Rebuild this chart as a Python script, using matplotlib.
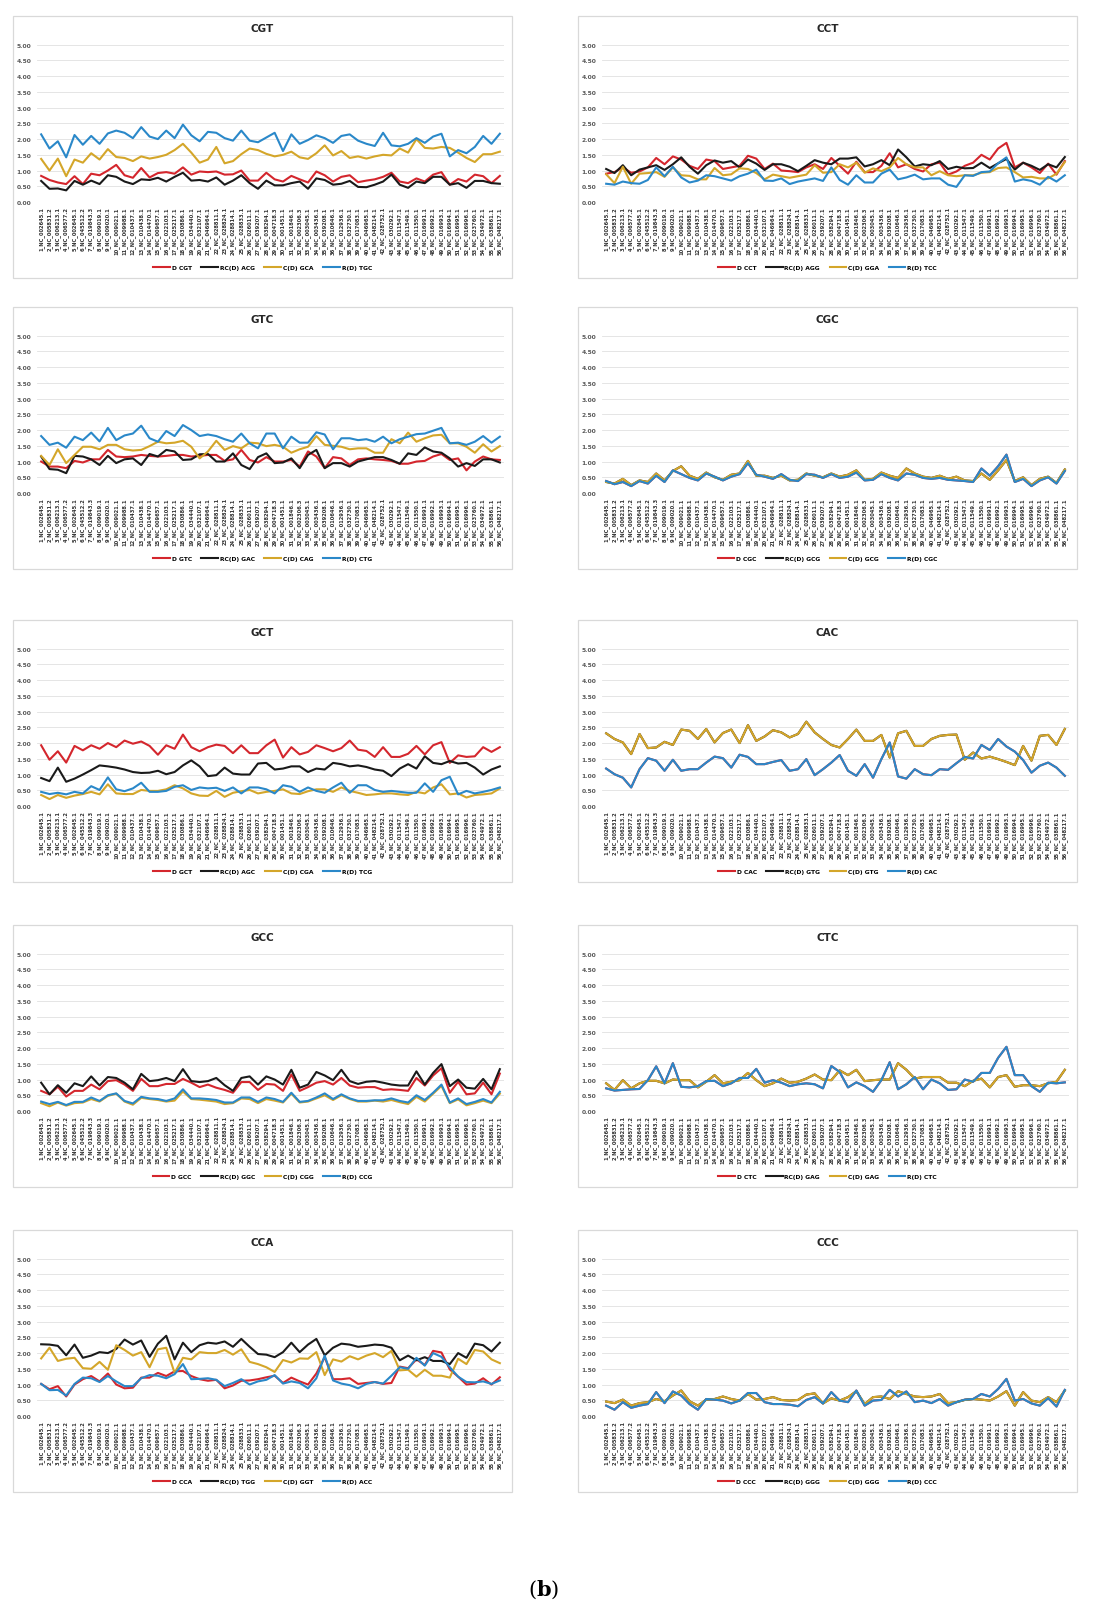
import numpy as np
import matplotlib
matplotlib.use("Agg")
import matplotlib.pyplot as plt
from matplotlib.patches import Rectangle

W, H = 1093, 1608

x_labels = [
    "1_NC_002645.1", "2_NC_005831.2", "3_NC_006213.1", "4_NC_006577.2", "5_NC_002645.1",
    "6_NC_045512.2", "7_NC_019843.3", "8_NC_009019.1", "9_NC_009020.1", "10_NC_009021.1",
    "11_NC_009988.1", "12_NC_010437.1", "13_NC_010438.1", "14_NC_014470.1", "15_NC_009657.1",
    "16_NC_022103.1", "17_NC_025217.1", "18_NC_030886.1", "19_NC_034440.1", "20_NC_032107.1",
    "21_NC_046964.1", "22_NC_028811.1", "23_NC_028824.1", "24_NC_028814.1", "25_NC_028833.1",
    "26_NC_026011.1", "27_NC_039207.1", "28_NC_038294.1", "29_NC_004718.3", "30_NC_001451.1",
    "31_NC_001846.1", "32_NC_002306.3", "33_NC_003045.1", "34_NC_003436.1", "35_NC_039208.1",
    "36_NC_010646.1", "37_NC_012936.1", "38_NC_032730.1", "39_NC_017083.1", "40_NC_046965.1",
    "41_NC_048214.1", "42_NC_028752.1", "43_NC_030292.1", "44_NC_011547.1", "45_NC_011549.1",
    "46_NC_011550.1", "47_NC_016991.1", "48_NC_016992.1", "49_NC_016993.1", "50_NC_016994.1",
    "51_NC_016995.1", "52_NC_016996.1", "53_NC_023760.1", "54_NC_034972.1", "55_NC_038861.1",
    "56_NC_048217.1",
]

y_ticks = [0.0, 0.5, 1.0, 1.5, 2.0, 2.5, 3.0, 3.5, 4.0, 4.5, 5.0]

# ---------------- CGT ----------------
cgt_d = [0.83,0.70,0.62,0.57,0.82,0.57,0.90,0.85,1.00,1.18,0.85,0.77,1.08,0.78,0.92,0.95,0.90,1.10,0.87,0.97,
         0.95,0.97,0.87,0.88,1.00,0.68,0.68,0.93,0.72,0.65,0.83,0.72,0.62,0.97,0.85,0.65,0.80,0.85,0.63,0.68,
         0.72,0.80,0.93,0.65,0.60,0.75,0.65,0.87,0.95,0.55,0.73,0.65,0.87,0.82,0.60,0.83]
cgt_rc = [0.67,0.42,0.43,0.37,0.67,0.55,0.68,0.57,0.85,0.80,0.65,0.57,0.72,0.70,0.77,0.65,0.80,0.93,0.68,0.70,
          0.65,0.78,0.55,0.68,0.85,0.60,0.42,0.68,0.53,0.53,0.60,0.65,0.42,0.75,0.70,0.55,0.58,0.67,0.48,0.47,
          0.55,0.65,0.87,0.55,0.45,0.65,0.60,0.80,0.80,0.55,0.60,0.45,0.67,0.67,0.60,0.58]
cgt_c = [1.37,1.00,1.38,0.82,1.35,1.25,1.55,1.35,1.68,1.43,1.40,1.30,1.45,1.38,1.43,1.50,1.65,1.85,1.57,1.25,
         1.35,1.75,1.23,1.30,1.52,1.70,1.65,1.53,1.45,1.50,1.60,1.42,1.37,1.55,1.80,1.48,1.62,1.40,1.45,1.38,
         1.45,1.50,1.48,1.70,1.57,2.00,1.72,1.70,1.75,1.72,1.57,1.40,1.27,1.52,1.52,1.60]
cgt_r = [2.15,1.70,1.93,1.42,2.13,1.82,2.10,1.85,2.18,2.27,2.20,2.03,2.38,2.08,2.00,2.27,2.03,2.46,2.12,1.93,
         2.23,2.20,2.03,1.95,2.27,1.95,1.90,2.05,2.20,1.62,2.15,1.85,1.97,2.12,2.03,1.88,2.10,2.15,1.95,1.85,
         1.78,2.20,1.80,1.77,1.85,2.03,1.88,2.08,2.17,1.45,1.65,1.55,1.75,2.10,1.85,2.17]

# ---------------- CCT ----------------
cct_d = [0.90,0.95,1.10,0.93,0.97,1.10,1.40,1.20,1.45,1.35,1.15,1.05,1.35,1.30,1.05,1.10,1.15,1.47,1.38,1.05,
         1.22,1.00,0.98,0.95,1.10,1.20,1.05,1.40,1.15,0.90,1.28,0.95,0.95,1.15,1.55,1.10,1.20,1.05,0.97,1.20,
         1.25,0.87,0.97,1.15,1.25,1.50,1.35,1.70,1.88,1.10,1.25,1.10,0.92,1.22,0.87,1.30]
cct_rc = [1.05,0.92,1.17,0.85,1.03,1.10,1.17,1.02,1.20,1.42,1.12,0.90,1.17,1.32,1.25,1.30,1.10,1.35,1.22,1.02,
          1.20,1.20,1.12,0.98,1.15,1.33,1.25,1.20,1.38,1.38,1.42,1.13,1.20,1.33,1.17,1.67,1.42,1.13,1.20,1.17,
          1.30,1.05,1.12,1.07,1.08,1.25,1.08,1.23,1.37,1.03,1.25,1.15,1.02,1.20,1.10,1.43]
cct_c = [0.88,0.60,1.12,0.58,0.90,0.92,0.95,0.80,1.10,0.85,0.83,0.72,0.72,1.08,0.85,0.88,1.07,1.05,0.92,0.72,
         0.87,0.82,0.77,0.82,0.87,1.17,0.93,0.95,1.20,1.10,1.25,0.93,1.07,0.98,1.10,1.40,1.20,1.10,1.10,0.85,
         0.98,0.85,0.82,0.85,0.85,0.93,0.95,1.08,1.10,0.95,0.78,0.80,0.75,0.75,0.90,1.27]
cct_r = [0.58,0.55,0.65,0.60,0.58,0.70,1.10,0.82,1.12,0.78,0.62,0.68,0.85,0.82,0.75,0.68,0.82,0.90,1.03,0.68,
         0.67,0.75,0.57,0.65,0.70,0.75,0.67,1.10,0.70,0.55,0.85,0.62,0.62,0.90,1.03,0.72,0.78,0.87,0.72,0.75,
         0.75,0.55,0.48,0.85,0.83,0.95,0.97,1.23,1.42,0.65,0.72,0.67,0.55,0.80,0.65,0.85]

# ---------------- GTC ----------------
gtc_d = [1.00,0.84,0.84,0.79,1.02,0.97,1.07,1.07,1.37,1.16,1.14,1.16,1.21,1.18,1.16,1.18,1.21,1.21,1.16,1.18,
         1.21,1.21,1.02,1.07,1.37,1.05,0.97,1.14,1.00,1.00,1.05,0.84,1.32,1.16,0.79,1.14,1.10,0.89,1.07,1.10,
         1.07,1.05,1.02,0.93,0.93,1.00,1.02,1.16,1.24,1.05,1.10,0.72,1.00,1.16,1.07,1.05]
gtc_rc = [1.16,0.76,0.74,0.63,1.18,1.16,1.07,0.89,1.18,0.95,1.07,1.10,0.89,1.24,1.16,1.37,1.32,1.05,1.07,1.23,
          1.24,1.00,1.00,1.26,0.89,0.76,1.14,1.26,0.95,0.97,1.10,0.79,1.21,1.37,0.79,0.95,0.95,0.84,1.00,1.07,
          1.14,1.14,1.05,0.93,1.26,1.21,1.45,1.32,1.28,1.10,0.84,0.95,0.86,1.07,1.07,0.97]
gtc_c = [1.18,0.89,1.39,0.95,1.21,1.47,1.47,1.39,1.53,1.53,1.39,1.35,1.37,1.49,1.63,1.58,1.60,1.66,1.47,1.10,
         1.32,1.66,1.37,1.49,1.42,1.60,1.58,1.49,1.53,1.47,1.28,1.39,1.47,1.81,1.53,1.50,1.47,1.39,1.42,1.42,
         1.28,1.28,1.71,1.58,1.92,1.63,1.74,1.83,1.85,1.58,1.58,1.47,1.28,1.55,1.32,1.49]
gtc_r = [1.81,1.53,1.60,1.44,1.79,1.68,1.92,1.64,2.07,1.68,1.83,1.89,2.14,1.74,1.63,1.97,1.81,2.16,2.00,1.81,
         1.86,1.81,1.71,1.63,1.89,1.58,1.42,1.89,1.89,1.42,1.79,1.60,1.60,1.93,1.86,1.39,1.74,1.74,1.68,1.71,
         1.63,1.79,1.58,1.71,1.79,1.87,1.89,1.98,2.07,1.58,1.60,1.53,1.63,1.81,1.60,1.79]

# ---------------- CGC (palindromic pairs) ----------------
cgc_c = [0.35,0.30,0.45,0.25,0.40,0.35,0.62,0.40,0.70,0.85,0.55,0.45,0.65,0.50,0.42,0.58,0.62,1.02,0.55,0.55,
         0.48,0.55,0.40,0.42,0.62,0.55,0.50,0.62,0.52,0.58,0.72,0.42,0.45,0.65,0.55,0.48,0.78,0.62,0.52,0.48,
         0.55,0.45,0.52,0.40,0.38,0.62,0.42,0.72,1.05,0.38,0.50,0.25,0.45,0.52,0.32,0.75]
cgc_r = [0.38,0.28,0.35,0.22,0.38,0.30,0.55,0.35,0.72,0.60,0.48,0.40,0.62,0.52,0.40,0.52,0.60,0.95,0.58,0.52,
         0.45,0.60,0.42,0.38,0.60,0.58,0.48,0.60,0.48,0.52,0.65,0.40,0.42,0.60,0.48,0.40,0.62,0.58,0.48,0.45,
         0.48,0.42,0.40,0.38,0.35,0.78,0.55,0.85,1.22,0.35,0.45,0.22,0.40,0.50,0.30,0.70]
cgc_d = cgc_r
cgc_rc = cgc_c

# ---------------- GCT ----------------
gct_d = [1.93,1.47,1.74,1.38,1.91,1.77,1.93,1.82,2.00,1.87,2.08,1.98,2.05,1.91,1.63,1.93,1.82,2.27,1.87,1.74,
         1.87,1.95,1.91,1.68,1.93,1.68,1.68,1.93,2.11,1.54,1.87,1.64,1.72,1.93,1.84,1.74,1.84,2.08,1.79,1.75,
         1.56,1.87,1.56,1.56,1.66,1.91,1.64,1.93,2.03,1.37,1.61,1.56,1.58,1.87,1.72,1.87]
gct_rc = [0.89,0.79,1.22,0.77,0.87,1.00,1.14,1.29,1.26,1.22,1.16,1.08,1.05,1.06,1.12,1.01,1.08,1.29,1.45,1.26,
          0.95,0.98,1.22,1.03,1.00,1.00,1.35,1.37,1.16,1.19,1.26,1.26,1.08,1.19,1.16,1.37,1.33,1.26,1.29,1.24,
          1.16,1.12,0.95,1.19,1.33,1.19,1.58,1.37,1.33,1.43,1.35,1.37,1.22,1.00,1.16,1.26]
gct_c = [0.35,0.22,0.35,0.26,0.33,0.38,0.45,0.37,0.69,0.40,0.38,0.38,0.51,0.48,0.48,0.53,0.66,0.56,0.40,0.33,
         0.32,0.48,0.29,0.42,0.47,0.51,0.40,0.45,0.48,0.53,0.40,0.38,0.47,0.53,0.53,0.45,0.59,0.48,0.42,0.35,
         0.37,0.40,0.40,0.37,0.35,0.45,0.40,0.59,0.69,0.37,0.40,0.27,0.35,0.37,0.40,0.56]
gct_r = [0.45,0.38,0.42,0.37,0.45,0.40,0.63,0.51,0.91,0.53,0.47,0.56,0.74,0.45,0.45,0.48,0.61,0.66,0.51,0.59,
         0.56,0.58,0.48,0.59,0.40,0.59,0.59,0.53,0.40,0.66,0.61,0.45,0.59,0.48,0.42,0.59,0.74,0.42,0.66,0.66,
         0.51,0.45,0.48,0.45,0.42,0.42,0.72,0.45,0.82,0.93,0.37,0.48,0.40,0.45,0.51,0.59]

# ---------------- CAC (palindromic pairs) ----------------
cac_c = [2.31,2.13,2.02,1.65,2.29,1.84,1.86,2.04,1.94,2.43,2.39,2.13,2.45,2.02,2.32,2.43,2.00,2.57,2.07,2.21,
         2.41,2.34,2.18,2.29,2.68,2.34,2.13,1.94,1.86,2.13,2.43,2.07,2.07,2.26,1.54,2.31,2.39,1.91,1.91,2.13,
         2.23,2.26,2.27,1.47,1.70,1.51,1.57,1.49,1.40,1.30,1.91,1.44,2.23,2.26,1.94,2.45]
cac_r = [1.19,1.01,0.90,0.59,1.17,1.52,1.44,1.12,1.47,1.12,1.17,1.17,1.38,1.57,1.52,1.22,1.63,1.56,1.33,1.33,
         1.40,1.46,1.12,1.17,1.49,0.98,1.17,1.38,1.62,1.12,0.96,1.33,0.90,1.49,2.02,0.94,0.87,1.17,1.01,0.98,
         1.17,1.15,1.36,1.56,1.51,1.94,1.78,2.13,1.89,1.73,1.46,1.06,1.28,1.38,1.22,0.96]
cac_d = cac_r
cac_rc = cac_c

# ---------------- GCC ----------------
gcc_d = [0.64,0.53,0.77,0.46,0.64,0.64,0.84,0.69,0.95,0.98,0.84,0.64,1.02,0.79,0.79,0.86,0.86,1.02,0.90,0.76,
         0.84,0.74,0.67,0.58,0.92,0.92,0.67,0.86,0.84,0.64,1.16,0.64,0.76,0.90,0.95,0.84,1.05,0.81,0.74,0.76,
         0.76,0.67,0.69,0.67,0.64,1.05,0.81,1.13,1.36,0.58,0.93,0.53,0.56,0.90,0.53,1.19]
gcc_rc = [0.90,0.53,0.82,0.58,0.88,0.79,1.10,0.81,1.08,1.05,0.90,0.69,1.18,0.95,0.98,1.05,0.95,1.33,0.95,0.92,
          0.95,1.05,0.82,0.64,1.05,1.10,0.84,1.10,1.00,0.84,1.31,0.74,0.84,1.24,1.13,0.98,1.31,0.95,0.86,0.93,
          0.95,0.90,0.84,0.81,0.81,1.26,0.84,1.21,1.49,0.79,1.00,0.74,0.71,1.02,0.69,1.33]
gcc_c = [0.25,0.15,0.27,0.17,0.25,0.27,0.38,0.30,0.48,0.55,0.30,0.20,0.42,0.38,0.35,0.30,0.33,0.62,0.38,0.36,
         0.33,0.30,0.22,0.25,0.40,0.38,0.25,0.38,0.33,0.27,0.55,0.27,0.30,0.40,0.50,0.35,0.50,0.38,0.30,0.30,
         0.33,0.30,0.35,0.28,0.22,0.45,0.30,0.55,0.80,0.25,0.37,0.18,0.25,0.33,0.25,0.55]
gcc_r = [0.30,0.22,0.29,0.19,0.29,0.29,0.43,0.32,0.50,0.56,0.32,0.24,0.45,0.40,0.38,0.32,0.40,0.69,0.40,0.40,
         0.38,0.35,0.27,0.27,0.43,0.43,0.29,0.43,0.38,0.29,0.58,0.29,0.32,0.43,0.56,0.38,0.53,0.40,0.32,0.32,
         0.34,0.34,0.40,0.32,0.27,0.50,0.35,0.58,0.84,0.27,0.40,0.22,0.29,0.38,0.27,0.61]

# ---------------- CTC (palindromic pairs) ----------------
ctc_c = [0.88,0.67,0.98,0.72,0.88,0.96,0.96,0.88,1.00,0.98,0.98,0.75,0.93,1.14,0.88,0.93,0.98,1.21,0.98,0.79,
         0.88,1.03,0.90,0.93,1.03,1.16,1.00,0.98,1.29,1.14,1.31,0.95,0.98,1.00,1.00,1.52,1.31,1.03,1.08,1.08,
         1.08,0.90,0.90,0.79,0.96,1.03,0.75,1.08,1.14,0.77,0.82,0.82,0.79,0.88,0.93,1.31]
ctc_r = [0.72,0.65,0.67,0.69,0.70,0.98,1.42,0.88,1.52,0.77,0.75,0.79,0.95,0.96,0.79,0.88,1.05,1.05,1.34,0.90,
         0.98,0.90,0.79,0.85,0.88,0.85,0.72,1.43,1.24,0.75,0.91,0.79,0.61,0.98,1.55,0.69,0.85,1.08,0.69,1.00,
         0.88,0.67,0.69,1.00,0.93,1.21,1.21,1.69,2.04,1.14,1.14,0.79,0.61,0.90,0.88,0.91]
ctc_d = ctc_r
ctc_rc = ctc_c

# ---------------- CCA ----------------
cca_d = [1.02,0.85,0.95,0.62,1.00,1.17,1.27,1.10,1.35,1.00,0.88,0.90,1.22,1.22,1.37,1.27,1.42,1.43,1.27,1.17,
         1.12,1.15,0.88,0.97,1.12,1.13,1.17,1.23,1.28,1.05,1.22,1.10,1.00,1.35,1.87,1.17,1.17,1.20,1.02,1.05,
         1.08,1.02,1.05,1.57,1.52,1.80,1.62,2.07,2.02,1.48,1.25,1.00,1.03,1.20,1.00,1.23]
cca_rc = [2.28,2.27,2.23,1.93,2.27,1.85,1.92,2.03,2.00,2.13,2.43,2.27,2.40,1.88,2.30,2.55,1.80,2.33,2.03,2.25,
          2.33,2.30,2.37,2.20,2.45,2.20,1.97,1.95,1.87,2.03,2.33,2.03,2.27,2.45,1.93,2.17,2.30,2.27,2.20,2.23,
          2.27,2.25,2.17,1.77,1.92,1.77,1.87,1.75,1.75,1.65,2.00,1.85,2.30,2.25,2.05,2.33]
cca_c = [1.83,2.17,1.75,1.82,1.85,1.52,1.50,1.72,1.47,2.25,2.10,1.92,2.03,1.55,2.12,2.17,1.37,1.85,1.80,2.03,
         2.00,2.00,2.10,1.95,2.12,1.72,1.65,1.55,1.40,1.78,1.70,1.83,1.82,2.03,1.30,1.80,1.73,1.90,1.80,1.92,
         2.00,1.87,2.07,1.45,1.47,1.25,1.47,1.28,1.28,1.22,1.82,1.65,2.10,2.05,1.80,1.68]
cca_r = [1.02,0.82,0.83,0.65,1.02,1.22,1.20,1.08,1.27,1.10,0.95,0.95,1.20,1.30,1.28,1.20,1.33,1.65,1.17,1.18,
         1.20,1.15,0.95,1.05,1.17,1.00,1.10,1.15,1.30,1.03,1.10,1.05,0.88,1.20,1.92,1.13,1.03,0.98,0.88,1.02,
         1.08,1.03,1.28,1.55,1.50,1.85,1.60,2.00,1.88,1.55,1.25,1.08,1.07,1.10,1.02,1.13]

# ---------------- CCC (palindromic pairs) ----------------
ccc_c = [0.46,0.41,0.52,0.33,0.41,0.44,0.54,0.47,0.65,0.81,0.47,0.33,0.52,0.54,0.62,0.54,0.49,0.70,0.52,0.54,
         0.60,0.51,0.49,0.51,0.68,0.72,0.40,0.56,0.49,0.60,0.79,0.38,0.60,0.62,0.54,0.79,0.70,0.62,0.60,0.62,
         0.70,0.41,0.44,0.51,0.54,0.52,0.49,0.62,0.79,0.33,0.76,0.49,0.44,0.60,0.44,0.81]
ccc_r = [0.33,0.20,0.44,0.26,0.33,0.38,0.76,0.41,0.78,0.65,0.38,0.20,0.54,0.52,0.49,0.40,0.49,0.73,0.73,0.44,
         0.38,0.38,0.36,0.31,0.51,0.60,0.40,0.76,0.49,0.44,0.81,0.33,0.49,0.51,0.83,0.62,0.78,0.44,0.49,0.41,
         0.54,0.33,0.44,0.52,0.54,0.70,0.62,0.86,1.18,0.49,0.54,0.40,0.33,0.57,0.30,0.83]
ccc_d = ccc_r
ccc_rc = ccc_c

panels = [
    ("CGT", ["D CGT", "RC(D) ACG", "C(D) GCA", "R(D) TGC"], [cgt_d, cgt_rc, cgt_c, cgt_r]),
    ("CCT", ["D CCT", "RC(D) AGG", "C(D) GGA", "R(D) TCC"], [cct_d, cct_rc, cct_c, cct_r]),
    ("GTC", ["D GTC", "RC(D) GAC", "C(D) CAG", "R(D) CTG"], [gtc_d, gtc_rc, gtc_c, gtc_r]),
    ("CGC", ["D CGC", "RC(D) GCG", "C(D) GCG", "R(D) CGC"], [cgc_d, cgc_rc, cgc_c, cgc_r]),
    ("GCT", ["D GCT", "RC(D) AGC", "C(D) CGA", "R(D) TCG"], [gct_d, gct_rc, gct_c, gct_r]),
    ("CAC", ["D CAC", "RC(D) GTG", "C(D) GTG", "R(D) CAC"], [cac_d, cac_rc, cac_c, cac_r]),
    ("GCC", ["D GCC", "RC(D) GGC", "C(D) CGG", "R(D) CCG"], [gcc_d, gcc_rc, gcc_c, gcc_r]),
    ("CTC", ["D CTC", "RC(D) GAG", "C(D) GAG", "R(D) CTC"], [ctc_d, ctc_rc, ctc_c, ctc_r]),
    ("CCA", ["D CCA", "RC(D) TGG", "C(D) GGT", "R(D) ACC"], [cca_d, cca_rc, cca_c, cca_r]),
    ("CCC", ["D CCC", "RC(D) GGG", "C(D) GGG", "R(D) CCC"], [ccc_d, ccc_rc, ccc_c, ccc_r]),
]

colors = ["#d4262d", "#1a1a1a", "#d4a62a", "#2a88c9"]

fig = plt.figure(figsize=(W / 100, H / 100), dpi=100)
fig.patch.set_facecolor("white")

row_tops = [17, 308, 621, 926, 1231]
col_lefts = [13, 578]
PW, PH = 499, 262


def draw_panel(px0, py0, title, labels, series):
    fig.patches.append(Rectangle((px0 / W, 1 - (py0 + PH) / H), PW / W, PH / H,
                                 transform=fig.transFigure, facecolor="white",
                                 edgecolor="#d9d9d9", lw=0.9, zorder=-5))
    ax_l = px0 + 24
    ax_r = px0 + 491
    ax_t = py0 + 28.7
    ax_b = py0 + 186
    ax = fig.add_axes([ax_l / W, 1 - ax_b / H, (ax_r - ax_l) / W, (ax_b - ax_t) / H])
    ax.set_facecolor("none")
    xs = np.arange(1, len(x_labels) + 1)
    for s, lab, col in zip(series, labels, colors):
        ax.plot(xs, s, color=col, lw=1.5, label=lab, solid_joinstyle="round")
    ax.set_xlim(0.5, 56.5)
    ax.set_ylim(0, 5)
    ax.set_yticks(y_ticks)
    ax.set_yticklabels([f"{v:.2f}" for v in y_ticks], fontsize=4.3,
                       fontweight="bold", color="#595959")
    ax.set_xticks(xs)
    ax.set_xticklabels(x_labels, rotation=90, fontsize=3.7, color="#333333",
                       fontweight="bold")
    ax.grid(axis="y", color="#e0e0e0", lw=0.6)
    ax.set_axisbelow(True)
    for sp in ax.spines.values():
        sp.set_visible(False)
    ax.tick_params(axis="both", length=0)
    ax.tick_params(axis="y", pad=4)
    ax.tick_params(axis="x", pad=3)
    fig.text((px0 + PW / 2) / W, 1 - (py0 + 12) / H, title, ha="center", va="center",
             fontsize=7.5, fontweight="bold", color="#262626")
    ax.legend(loc="center", bbox_to_anchor=((px0 + PW / 2) / W, 1 - (py0 + 251) / H),
              bbox_transform=fig.transFigure, ncol=4, fontsize=4.3, frameon=False,
              handlelength=2.8, handletextpad=0.3, columnspacing=1.6,
              prop={"size": 4.3, "weight": "bold"})


for i, (title, labels, series) in enumerate(panels):
    r, c = divmod(i, 2)
    draw_panel(col_lefts[c], row_tops[r], title, labels, series)

plt.rcParams["mathtext.fontset"] = "dejavuserif"
fig.text(544 / W, 1 - 1590 / H, r"($\mathbf{b}$)", ha="center", va="center",
         fontsize=15, family="DejaVu Serif")

fig.savefig("out.png", dpi=100, facecolor="white")
